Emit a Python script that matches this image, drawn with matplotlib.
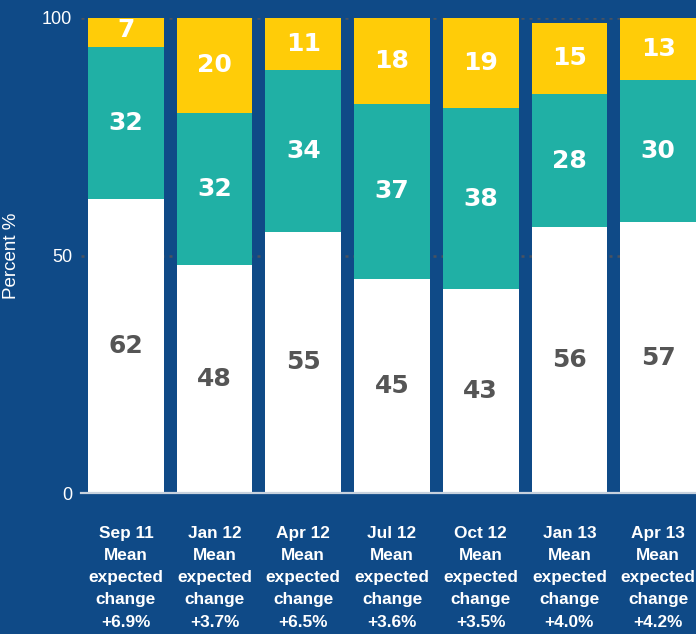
import matplotlib.pyplot as plt
import numpy as np

# survey waves and the share of answers in each group (%)
waves = ["Sep 11", "Jan 12", "Apr 12", "Jul 12", "Oct 12", "Jan 13", "Apr 13"]
mean_change = ["+6.9%", "+3.7%", "+6.5%", "+3.6%", "+3.5%", "+4.0%", "+4.2%"]
bottom_vals = [62, 48, 55, 45, 43, 56, 57]
middle_vals = [32, 32, 34, 37, 38, 28, 30]
top_vals = [7, 20, 11, 18, 19, 15, 13]

BG = "#0f4a87"
TEAL = "#20b0a5"
YELLOW = "#ffcc08"
GREY_TXT = "#555555"

fig = plt.figure(figsize=(6.96, 6.34), dpi=100, facecolor=BG)
ax = fig.add_axes([81 / 696, (634 - 493) / 634, 615 / 696, 475 / 634])
ax.set_facecolor(BG)

x = np.arange(len(waves))
w = 0.854
bottom = np.array(bottom_vals)
middle = np.array(middle_vals)
top = np.array(top_vals)

ax.bar(x, bottom, w, color="white", zorder=2)
ax.bar(x, middle, w, bottom=bottom, color=TEAL, zorder=2)
ax.bar(x, top, w, bottom=bottom + middle, color=YELLOW, zorder=2)

lab = dict(ha="center", va="center", fontsize=18, fontweight="bold",
           family="DejaVu Sans", zorder=3)
for i in range(len(waves)):
    ax.text(x[i], bottom[i] / 2, str(bottom[i]), color=GREY_TXT, **lab)
    ax.text(x[i], bottom[i] + middle[i] / 2, str(middle[i]), color="white", **lab)
    ax.text(x[i], bottom[i] + middle[i] + top[i] / 2, str(top[i]),
            color="white", **lab)

    # wave name plus the mean expected change underneath each bar
    ax.text(x[i], -6.9,
            f"{waves[i]}\nMean\nexpected\nchange\n{mean_change[i]}",
            ha="center", va="top", color="white", fontsize=12.4,
            fontweight="bold", linespacing=1.6,
            family=["Liberation Sans Narrow", "Liberation Sans"])

for yv in (50, 100):
    ax.axhline(yv, color="#4a5260", lw=1.8, ls=(0, (1.2, 2.0)), zorder=1)

ax.set_xlim(-0.506, 6.427)
ax.set_ylim(0, 100)
ax.set_xticks([])
ax.set_yticks([0, 50, 100])
ax.tick_params(axis="y", length=0, pad=6.5, labelcolor="white", labelsize=13)
for t in ax.get_yticklabels():
    t.set_family("Liberation Sans")

for s in ("top", "right", "left"):
    ax.spines[s].set_visible(False)
ax.spines["bottom"].set_color("#c8d2de")
ax.spines["bottom"].set_linewidth(1.6)
ax.spines["bottom"].set_zorder(4)

fig.text(12 / 696, 1 - 256 / 634, "Percent %", rotation=90, ha="center",
         va="center", color="white", fontsize=13.5, family="Liberation Sans")

fig.savefig("out.png", dpi=100, facecolor=BG)
